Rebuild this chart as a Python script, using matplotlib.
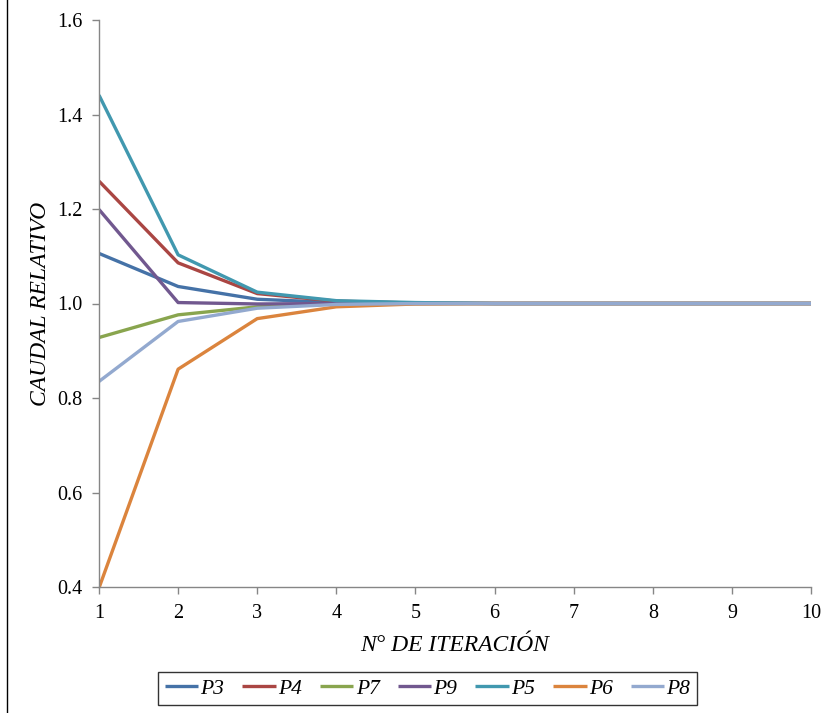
import matplotlib
matplotlib.use("Agg")
import matplotlib.pyplot as plt
from matplotlib.lines import Line2D

iterations = [1, 2, 3, 4, 5, 6, 7, 8, 9, 10]
P3 = [1.106, 1.036, 1.009, 1.002, 1.000, 1.000, 1.000, 1.000, 1.000, 1.000]
P4 = [1.259, 1.086, 1.021, 1.005, 1.001, 1.000, 1.000, 1.000, 1.000, 1.000]
P7 = [0.928, 0.976, 0.993, 0.999, 1.000, 1.000, 1.000, 1.000, 1.000, 1.000]
P9 = [1.199, 1.002, 0.999, 1.000, 1.000, 1.000, 1.000, 1.000, 1.000, 1.000]
P5 = [1.441, 1.103, 1.024, 1.006, 1.002, 1.000, 1.000, 1.000, 1.000, 1.000]
P6 = [0.398, 0.861, 0.968, 0.993, 0.999, 1.000, 1.000, 1.000, 1.000, 1.000]
P8 = [0.835, 0.962, 0.990, 0.998, 1.000, 1.000, 1.000, 1.000, 1.000, 1.000]

series = [("P3", P3, "#4572A7"), ("P4", P4, "#AA4643"), ("P7", P7, "#89A54E"),
          ("P9", P9, "#71588F"), ("P5", P5, "#4198AF"), ("P6", P6, "#DB843D"),
          ("P8", P8, "#93A9CF")]

y_ticks = [0.4, 0.6, 0.8, 1.0, 1.2, 1.4, 1.6]

plt.rcParams['font.family'] = ['Liberation Serif', 'DejaVu Serif']

fig = plt.figure(figsize=(8.37, 7.13), dpi=100)
ax = fig.add_axes([99/837, 1-587/713, (811-99)/837, (587-20)/713])

for name, vals, col in series:
    ax.plot(iterations, vals, color=col, lw=2.4, label=name, solid_capstyle='butt')

ax.set_xlim(1, 10)
ax.set_ylim(0.4, 1.6)
ax.set_xticks(iterations)
ax.set_yticks(y_ticks)
ax.set_yticklabels([f"{v:.1f}" for v in y_ticks])
for s in ['top', 'right']:
    ax.spines[s].set_visible(False)
for s in ['left', 'bottom']:
    ax.spines[s].set_color('#868686')
    ax.spines[s].set_linewidth(1.0)
ax.tick_params(axis='both', direction='out', length=5, color='#868686', labelsize=14.5, width=1)
ax.tick_params(axis='y', pad=7)
ax.tick_params(axis='x', pad=7)

ax.set_xlabel("N° DE ITERACIÓN", fontsize=17, style='italic', labelpad=9)
ax.set_ylabel("CAUDAL RELATIVO", fontsize=17, style='italic', labelpad=4)

leg = fig.legend(loc='center', bbox_to_anchor=(427.5/837, 1-688.5/713), ncol=7,
                 frameon=True, fancybox=False, edgecolor='black',
                 prop={'style': 'italic', 'size': 15.5}, handlelength=1.55,
                 handletextpad=0.1, columnspacing=0.85, borderpad=0.3)
leg.get_frame().set_linewidth(1.0)

fig.add_artist(Line2D([7.5/837, 7.5/837], [0, 1], color='black', lw=1.0,
                      transform=fig.transFigure))

fig.savefig("out.png", dpi=100)
